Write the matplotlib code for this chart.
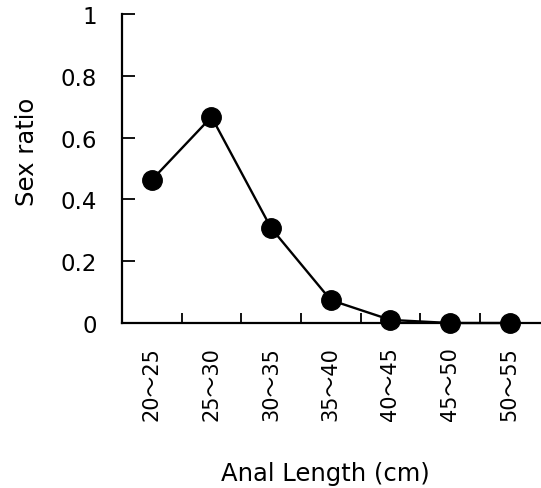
import numpy as np
import matplotlib
matplotlib.use("Agg")
import matplotlib.pyplot as plt
from matplotlib.ticker import FixedLocator

plt.rcParams['font.family'] = ['DejaVu Sans', 'Noto Sans CJK JP']

# --- data ---
categories = ["20～25", "25～30", "30～35", "35～40", "40～45", "45～50", "50～55"]
sex_ratio = [0.463, 0.667, 0.307, 0.074, 0.01, 0.0, 0.0]
y_ticks = [0, 0.2, 0.4, 0.6, 0.8, 1]
y_tick_labels = ["0", "0.2", "0.4", "0.6", "0.8", "1"]

fig = plt.figure(figsize=(5.41, 4.89), dpi=100)
ax = fig.add_axes([0.2255, 0.3374, 0.772, 0.632])

x = np.arange(len(categories))
ax.plot(x, sex_ratio, color="black", lw=1.7, marker="o", markersize=14,
        clip_on=False, zorder=3)

ax.set_xlim(-0.5, len(categories) - 0.5)
ax.set_ylim(0, 1)

# labels at category centres, tick marks at the boundaries
ax.set_xticks(x)
ax.set_xticklabels(categories, rotation=90, fontsize=15)
ax.tick_params(axis="x", which="major", length=0, pad=17)
ax.xaxis.set_minor_locator(FixedLocator(x[:-1] + 0.5))
ax.tick_params(axis="x", which="minor", direction="in", length=7, width=1.3)

ax.set_yticks(y_ticks)
ax.set_yticklabels(y_tick_labels, fontsize=16.5)
ax.tick_params(axis="y", direction="in", length=9.5, width=1.3, pad=18)

for side in ["top", "right"]:
    ax.spines[side].set_visible(False)
for side in ["left", "bottom"]:
    ax.spines[side].set_linewidth(1.6)

ax.set_ylabel("Sex ratio", fontsize=17.5)
ax.yaxis.set_label_coords(-0.199, 0.557)
ax.set_xlabel("Anal Length (cm)", fontsize=17.5)
ax.xaxis.set_label_coords(0.488, -0.447)

fig.savefig("out.png", dpi=100)
